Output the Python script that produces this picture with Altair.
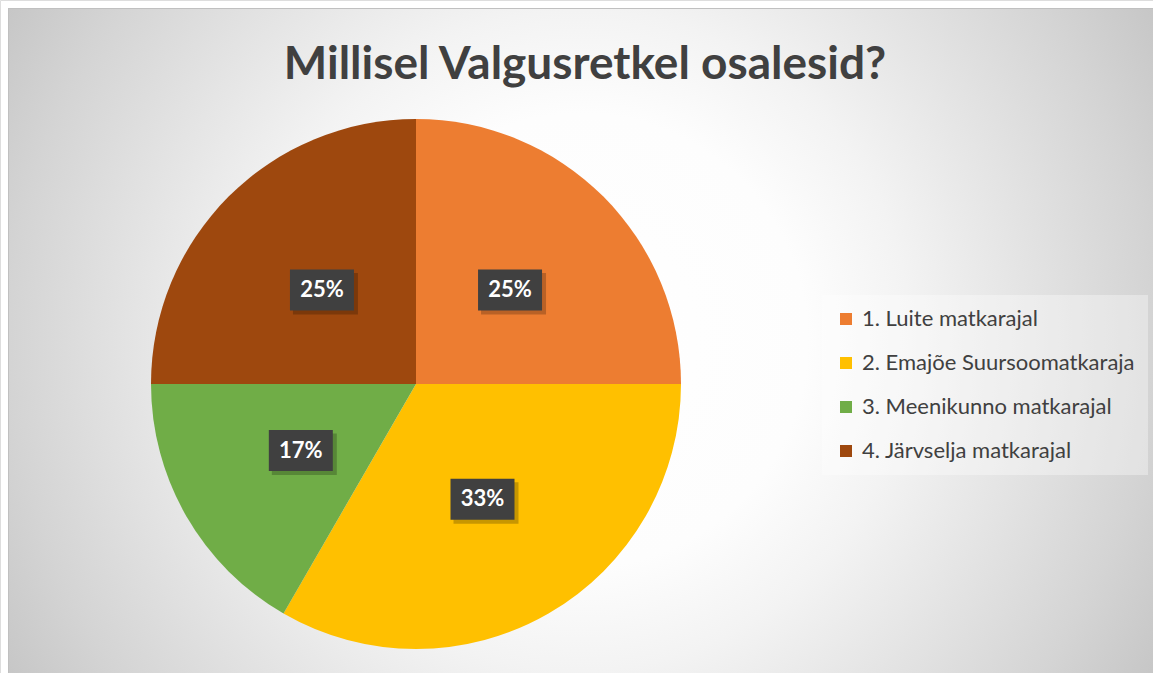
import altair as alt
import pandas as pd

categories = ["1. Luite matkarajal", "2. Emajõe Suursoomatkaraja",
              "3. Meenikunno matkarajal", "4. Järvselja matkarajal"]
counts = [3, 4, 2, 3]
order = [1, 2, 3, 4]
colors = ["#ED7D31", "#FFC000", "#70AD47", "#9E480E"]
title_text = "Millisel Valgusretkel osalesid?"

df = pd.DataFrame({"cat": categories, "v": counts, "ord": order})

W, H = 1153, 673
CX, CY, R, LR = 416, 384, 265, 133
FONT = "Lato"

one = pd.DataFrame({"a": [0]})

bg = alt.Chart(one).mark_rect(
    fill={
        "gradient": "radial",
        "x1": 0.5, "y1": 0.5, "r1": 0,
        "x2": 0.5, "y2": 0.5, "r2": 0.6,
        "stops": [
            {"offset": 0.0, "color": "#ffffff"},
            {"offset": 0.33, "color": "#fdfdfd"},
            {"offset": 0.48, "color": "#f3f3f3"},
            {"offset": 0.83, "color": "#d4d4d4"},
            {"offset": 1.0, "color": "#c3c3c3"},
        ],
    },
).encode(
    x=alt.value(8), x2=alt.value(W),
    y=alt.value(8), y2=alt.value(H),
)

top_border = alt.Chart(one).mark_rule(color="#c0c0c0", strokeWidth=1).encode(
    x=alt.value(8), x2=alt.value(W), y=alt.value(8.5)
)
left_border = alt.Chart(one).mark_rule(color="#c0c0c0", strokeWidth=1).encode(
    x=alt.value(8.5), y=alt.value(8), y2=alt.value(H)
)

base = alt.Chart(df)

pie = base.mark_arc(radius=R).encode(
    theta=alt.Theta("v:Q", stack=True),
    order=alt.Order("ord:Q"),
    color=alt.Color(
        "cat:N",
        scale=alt.Scale(domain=categories, range=colors),
        legend=alt.Legend(
            title=None, orient="none", legendX=822, legendY=295,
            symbolType="square", symbolSize=144, symbolStrokeWidth=0,
            labelFont=FONT, labelFontSize=22, labelColor="#404040",
            labelOffset=5, labelLimit=400, rowPadding=22, padding=13,
            fillColor="rgba(255,255,255,0.35)",
        ),
    ),
    x=alt.value(CX), y=alt.value(CY),
)

lab = base.transform_joinaggregate(
    total="sum(v)"
).transform_window(
    cum="sum(v)", sort=[alt.SortField("ord")], frame=[None, 0]
).transform_calculate(
    mid="(datum.cum - datum.v/2) / datum.total * 2 * PI",
    pct="round(datum.v / datum.total * 100) + '%'",
).transform_calculate(
    lx=f"{CX} + {LR} * sin(datum.mid)",
    ly=f"{CY} - {LR} * cos(datum.mid)",
).transform_calculate(
    bx1="datum.lx - 32", bx2="datum.lx + 32",
    by1="datum.ly - 20.5", by2="datum.ly + 20.5",
    sx1="datum.lx - 29", sx2="datum.lx + 36",
    sy1="datum.ly - 17", sy2="datum.ly + 24.5",
)

shadow = lab.mark_rect(color="#000000", opacity=0.22).encode(
    x=alt.X("sx1:Q", scale=None), x2="sx2:Q",
    y=alt.Y("sy1:Q", scale=None), y2="sy2:Q",
)

box = lab.mark_rect(color="#404040").encode(
    x=alt.X("bx1:Q", scale=None), x2="bx2:Q",
    y=alt.Y("by1:Q", scale=None), y2="by2:Q",
)

txt = lab.mark_text(
    font=FONT, fontSize=22, fontWeight="bold", color="#ffffff",
    align="center", baseline="middle",
).encode(
    x=alt.X("lx:Q", scale=None), y=alt.Y("ly:Q", scale=None),
    text="pct:N",
)

title = alt.Chart(pd.DataFrame({"t": [title_text]})).mark_text(
    font=FONT, fontSize=46, fontWeight="bold", color="#404040",
    align="center", baseline="alphabetic",
).encode(
    x=alt.value(585), y=alt.value(79), text="t:N",
)

chart = alt.layer(bg, top_border, left_border, pie, shadow, box, txt, title).properties(
    width=W, height=H,
    autosize=alt.AutoSizeParams(type="none"),
    padding=0,
).configure_view(stroke=None).configure(background="#ffffff")

chart.save("out.html", embed_options={"renderer": "svg", "actions": False})
